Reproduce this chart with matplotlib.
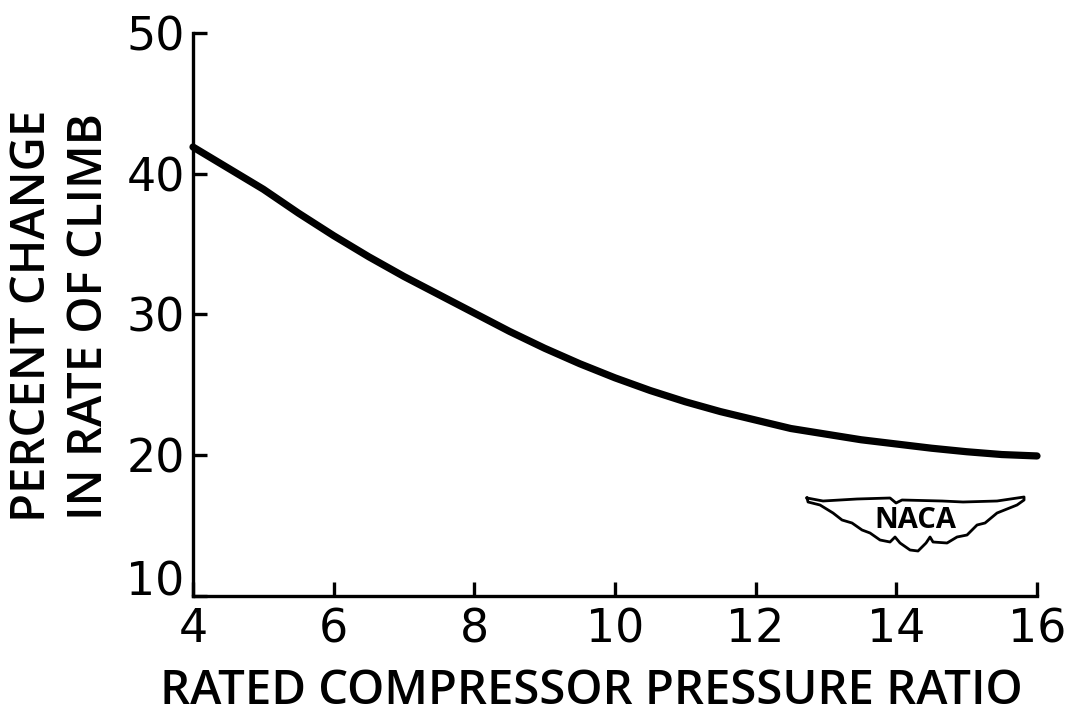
import matplotlib
matplotlib.use('Agg')
import matplotlib.pyplot as plt
import numpy as np

plt.rcParams['font.family'] = ['DejaVu Sans']

ratio = [4, 4.5, 5, 5.5, 6, 6.5, 7, 7.5, 8, 8.5, 9, 9.5, 10, 10.5, 11, 11.5, 12, 12.5, 13, 13.5, 14, 14.5, 15, 15.5, 16]
change = [41.9, 40.4, 38.9, 37.2, 35.6, 34.1, 32.7, 31.4, 30.1, 28.8, 27.6, 26.5, 25.5, 24.6, 23.8, 23.1, 22.5,
          21.9, 21.5, 21.1, 20.8, 20.5, 20.25, 20.05, 19.95]
x_ticks = [4, 6, 8, 10, 12, 14, 16]
y_ticks = [10, 20, 30, 40, 50]
x_title = 'RATED COMPRESSOR PRESSURE RATIO'
y_title = 'PERCENT CHANGE\nIN RATE OF CLIMB'

# NACA wings outline, traced in pixels of the original image
wing_x = [807, 823, 857, 890, 896, 902, 942, 963, 997, 1024, 1024, 1017, 997, 985, 977, 967, 957, 947,
          933, 930, 926, 918, 910, 900, 895, 890, 880, 870, 862, 852, 842, 833, 820, 808, 807]
wing_y = [498, 501, 499, 498, 503, 500, 501, 502, 501, 497, 500, 505, 513, 523, 525, 535, 537, 543,
          542, 537, 543, 551, 550, 543, 537, 542, 540, 533, 530, 523, 520, 513, 505, 502, 498]


def px_to_data(px, py):
    return 4 + (np.array(px) - 193) / 70.33, 50 - (np.array(py) - 33) / 14.075


fig = plt.figure(figsize=(10.7, 7.17), dpi=100)
ax = fig.add_axes([193 / 1070, 1 - 596 / 717, 844 / 1070, 563 / 717])
ax.plot(ratio, change, color='black', lw=5.2, solid_capstyle='round', clip_on=False)

wx, wy = px_to_data(wing_x, wing_y)
ax.plot(wx, wy, color='black', lw=2, solid_joinstyle='round')
lx, ly = px_to_data(915, 520)
ax.text(lx, ly, 'NACA', fontsize=21, fontweight='bold', family='Open Sans', ha='center', va='center')

ax.set_xlim(4, 16)
ax.set_ylim(10, 50)
ax.set_xticks(x_ticks)
ax.set_yticks(y_ticks)
ax.spines['top'].set_visible(False)
ax.spines['right'].set_visible(False)
ax.spines['left'].set_linewidth(2.4)
ax.spines['bottom'].set_linewidth(2.4)
ax.tick_params(direction='in', length=10, width=2.4, labelsize=33)
ax.tick_params(axis='x', pad=8)
ax.tick_params(axis='y', pad=6)
ax.get_yticklabels()[0].set_verticalalignment('baseline')

fig.text(591 / 1070, 1 - 691 / 717, x_title, fontsize=34, fontweight='semibold', family='Open Sans',
         ha='center', va='center')
fig.text(61 / 1070, 1 - 316 / 717, y_title, fontsize=34, fontweight='semibold', family='Open Sans', rotation=90,
         ha='center', va='center', linespacing=1.3, multialignment='center')

fig.savefig('out.png', dpi=100)
